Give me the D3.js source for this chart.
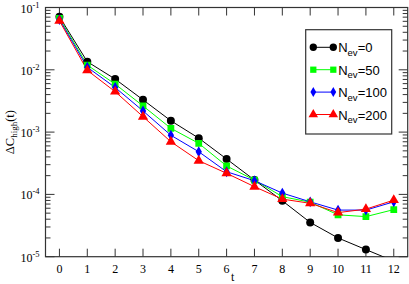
<!DOCTYPE html>
<html>
<head>
<meta charset="utf-8">
<script src="https://cdn.jsdelivr.net/npm/d3@7"></script>
<style>
  body { margin: 0; background: #fff; }
  svg { display: block; }
</style>
</head>
<body>
<div id="chart"></div>
<script>
// data
var tValues = [0, 1, 2, 3, 4, 5, 6, 7, 8, 9, 10, 11, 12];
var nev0   = [0.071, 0.0135, 0.0071, 0.0033, 0.00152, 0.0008, 0.00037, 0.00017, 7.9e-5, 3.55e-5, 2.0e-5, 1.3e-5, 8.5e-6];
var nev50  = [0.067, 0.0119, 0.0059, 0.00263, 0.00115, 0.00066, 0.000286, 0.00017, 9.2e-5, 7.5e-5, 4.7e-5, 4.4e-5, 5.7e-5];
var nev100 = [0.064, 0.011, 0.0052, 0.00219, 0.00089, 0.000484, 0.000231, 0.000166, 0.000105, 7.6e-5, 5.6e-5, 5.6e-5, 7.6e-5];
var nev200 = [0.061, 0.0098, 0.00446, 0.00177, 0.0007, 0.000348, 0.000218, 0.000133, 8.4e-5, 7.2e-5, 5.1e-5, 5.8e-5, 8.1e-5];
var seriesNames = ['0', '50', '100', '200'];
var seriesColors = ['#000000', '#00ff00', '#0000ff', '#ff0000'];
var seriesSymbols = [d3.symbolCircle, d3.symbolSquare, d3.symbolDiamond, d3.symbolTriangle];
var yTickExps = [-1, -2, -3, -4, -5];

var width = 409, height = 284;
var margin = { top: 7.5, right: 1.3, bottom: 27.3, left: 45.5 };
var innerW = width - margin.left - margin.right;
var innerH = height - margin.top - margin.bottom;

var data = [nev0, nev50, nev100, nev200].map(function (vals, i) {
  return {
    name: seriesNames[i], color: seriesColors[i], symbol: seriesSymbols[i],
    values: vals.map(function (v, j) { return { t: tValues[j], value: v }; })
  };
});

var xScale = d3.scaleLinear().domain([-0.5, 12.5]).range([0, innerW]);
var yScale = d3.scaleLog().domain([1e-5, 1e-1]).range([innerH, 0]);

var svg = d3.select('#chart').append('svg')
  .attr('width', width).attr('height', height);

var g = svg.append('g')
  .attr('transform', `translate(${margin.left}, ${margin.top})`);

g.append('clipPath').attr('id', 'clip')
  .append('rect').attr('width', innerW).attr('height', innerH);

/* ticks */
var minorVals = [];
for (var e = -5; e < -1; e++) {
  for (var k = 2; k <= 9; k++) minorVals.push(k * Math.pow(10, e));
}
var axisColor = '#333';
var ticksG = g.append('g').attr('stroke', axisColor).attr('stroke-width', 1);
tValues.forEach(function (t) {
  var x = xScale(t);
  ticksG.append('line').attr('x1', x).attr('x2', x).attr('y1', innerH).attr('y2', innerH - 8);
  ticksG.append('line').attr('x1', x).attr('x2', x).attr('y1', 0).attr('y2', 8);
});
yTickExps.forEach(function (e) {
  var y = yScale(Math.pow(10, e));
  ticksG.append('line').attr('x1', 0).attr('x2', 9).attr('y1', y).attr('y2', y);
  ticksG.append('line').attr('x1', innerW).attr('x2', innerW - 9).attr('y1', y).attr('y2', y);
});
minorVals.forEach(function (v) {
  var y = yScale(v);
  ticksG.append('line').attr('x1', 0).attr('x2', 5).attr('y1', y).attr('y2', y);
  ticksG.append('line').attr('x1', innerW).attr('x2', innerW - 5).attr('y1', y).attr('y2', y);
});

/* frame */
g.append('rect')
  .attr('width', innerW).attr('height', innerH)
  .attr('fill', 'none').attr('stroke', axisColor).attr('stroke-width', 1.2);

/* tick labels */
var serif = '"Liberation Serif", "Times New Roman", serif';
g.selectAll('.xlabel').data(tValues).enter().append('text')
  .attr('class', 'xlabel')
  .attr('x', d => xScale(d)).attr('y', innerH + 16)
  .attr('text-anchor', 'middle')
  .attr('font-family', serif).attr('font-size', 12)
  .text(d => d);

var yl = g.selectAll('.ylabel').data(yTickExps).enter().append('text')
  .attr('class', 'ylabel')
  .attr('x', -6).attr('y', d => yScale(Math.pow(10, d)) + 5)
  .attr('text-anchor', 'end')
  .attr('font-family', serif).attr('font-size', 12);
yl.append('tspan').text('10');
yl.append('tspan').attr('dy', -5).attr('font-size', 8.5).text(d => '-' + (-d));

/* axis titles */
g.append('text')
  .attr('x', innerW / 2 + 6).attr('y', innerH + 24.5)
  .attr('text-anchor', 'middle')
  .attr('font-family', serif).attr('font-size', 12)
  .text('t');

var ytitle = svg.append('text')
  .attr('transform', `translate(14, ${margin.top + innerH / 2}) rotate(-90)`)
  .attr('text-anchor', 'middle')
  .attr('font-family', serif).attr('font-size', 12.5);
ytitle.append('tspan').text('\u0394C');
ytitle.append('tspan').attr('dy', 3).attr('font-size', 9).text('high');
ytitle.append('tspan').attr('dy', -3).text('(t)');

/* lines and markers */
var line = d3.line()
  .x(d => xScale(d.t))
  .y(d => yScale(d.value));

var plot = g.append('g').attr('clip-path', 'url(#clip)');

plot.selectAll('.series-line')
  .data(data).enter()
  .append('path')
  .attr('class', 'series-line')
  .attr('d', d => line(d.values))
  .attr('fill', 'none')
  .attr('stroke', d => d.color)
  .attr('stroke-width', 1);

var symbolSize = [50, 46, 34, 46];
plot.selectAll('.series-marks')
  .data(data).enter()
  .append('g')
  .attr('class', 'series-marks')
  .attr('fill', d => d.color)
  .each(function (s, i) {
    d3.select(this).selectAll('path')
      .data(s.values).enter()
      .append('path')
      .attr('transform', d => `translate(${xScale(d.t)}, ${yScale(d.value)})`)
      .attr('d', d3.symbol().type(s.symbol).size(symbolSize[i]));
  });

/* legend */
var legend = svg.append('g').attr('transform', 'translate(305.7, 29.7)');
legend.append('rect')
  .attr('width', 86).attr('height', 104.3)
  .attr('fill', '#fff').attr('stroke', axisColor).attr('stroke-width', 1.2);

var sans = '"Liberation Sans", Arial, sans-serif';
var items = legend.selectAll('.item')
  .data(data).enter().append('g')
  .attr('class', 'item')
  .attr('transform', (d, i) => `translate(0, ${17.6 + i * 22.4})`);
items.append('line')
  .attr('x1', 7.6).attr('x2', 27.6)
  .attr('stroke', d => d.color).attr('stroke-width', 1);
items.each(function (s, i) {
  var it = d3.select(this);
  [7.6, 27.6].forEach(function (x) {
    it.append('path')
      .attr('transform', `translate(${x}, 0)`)
      .attr('fill', s.color)
      .attr('d', d3.symbol().type(s.symbol).size(symbolSize[i] * 0.85)());
  });
});
var lt = items.append('text')
  .attr('x', 32.5).attr('y', 5)
  .attr('font-family', sans).attr('font-size', 13);
lt.append('tspan').text('N');
lt.append('tspan').attr('dy', 3.5).attr('font-size', 9.5).text('ev');
lt.append('tspan').attr('dy', -3.5).text(d => '=' + d.name);
</script>
</body>
</html>
